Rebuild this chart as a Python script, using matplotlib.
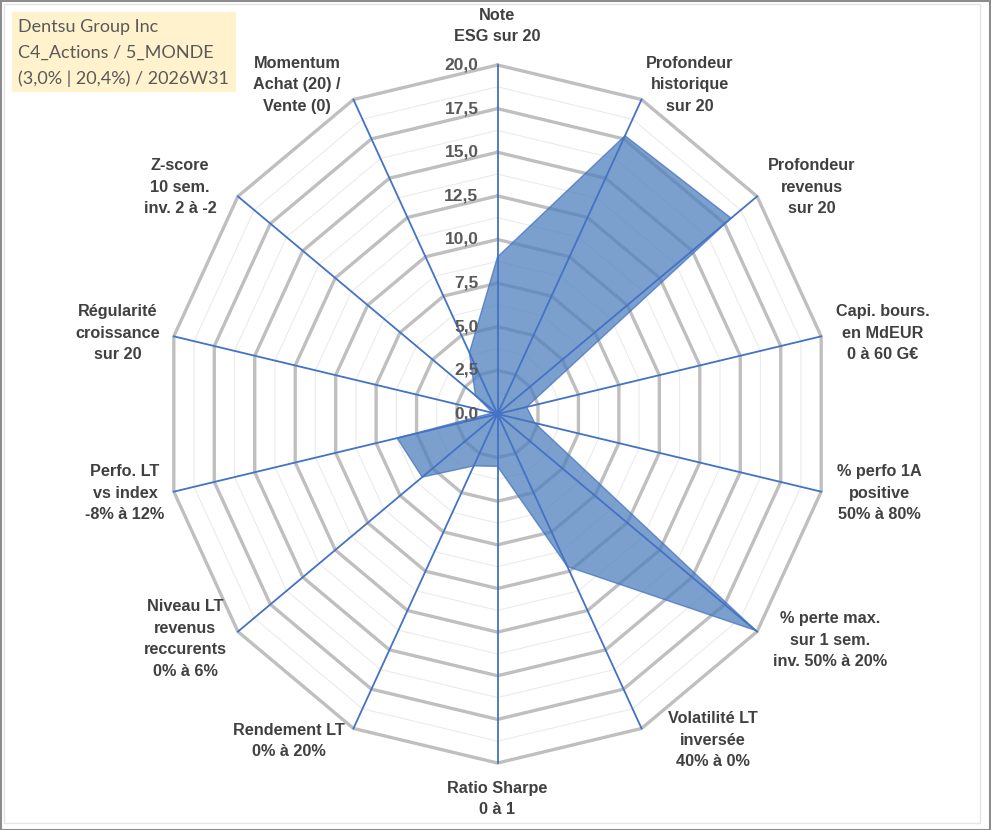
import numpy as np
import matplotlib.pyplot as plt
from matplotlib.patches import Rectangle

# axes of the radar, clockwise from the top
labels = ['Note\nESG sur 20',
          'Profondeur\nhistorique\nsur 20',
          'Profondeur\nrevenus\nsur 20',
          'Capi. bours.\nen MdEUR\n0 à 60 G€',
          '% perfo 1A\npositive\n50% à 80%',
          '% perte max.\nsur 1 sem.\ninv. 50% à 20%',
          'Volatilité LT\ninversée\n40% à 0%',
          'Ratio Sharpe\n0 à 1',
          'Rendement LT\n0% à 20%',
          'Niveau LT\nrevenus\nreccurents\n0% à 6%',
          'Perfo. LT\nvs index\n-8% à 12%',
          'Régularité\ncroissance\nsur 20',
          'Z-score\n10 sem.\ninv. 2 à -2',
          'Momentum\nAchat (20) /\nVente (0)']
values = [9.0, 17.7, 18.0, 1.8, 2.3, 19.9, 9.7, 3.0, 3.3, 5.8, 6.2, 0.3, 1.7, 3.9]
ticks = [0, 2.5, 5, 7.5, 10, 12.5, 15, 17.5, 20]
info = ['Dentsu Group Inc', 'C4_Actions / 5_MONDE', '(3,0% | 20,4%) / 2026W31']

# label centres in pixels (layout only)
lab_pos = [(497, 26), (690, 85), (812, 187), (883, 333), (879, 493), (830, 640),
           (713, 740), (497, 799), (289, 741), (185, 639), (125, 493), (118, 333),
           (180, 187), (297, 85)]

W, H = 991, 830
cx, cy = 497.5, 414
sx, sy = 16.6, 17.45   # px per unit (picture is a bit squeezed horizontally)

fig = plt.figure(figsize=(W / 100, H / 100), dpi=100)
ax = fig.add_axes([0, 0, 1, 1])
ax.set_xlim(-cx / sx, (W - cx) / sx)
ax.set_ylim(-(H - cy) / sy, cy / sy)
ax.axis('off')

n = len(labels)
ang = np.arange(n) * 2 * np.pi / n
ux = np.sin(ang)
uy = np.cos(ang)
uxc = np.append(ux, ux[0])
uyc = np.append(uy, uy[0])

# grid rings
for lev in np.arange(1.25, 20.01, 1.25):
    if abs(lev / 2.5 - round(lev / 2.5)) < 1e-6:
        ax.plot(lev * uxc, lev * uyc, color='#BFBFBF', lw=2.4, zorder=1, solid_joinstyle='miter')
    else:
        ax.plot(lev * uxc, lev * uyc, color='#EBEBEB', lw=0.8, zorder=1)

v = np.array(values)
ax.fill(v * ux, v * uy, facecolor='#4F81BD', alpha=0.75, edgecolor='#4472C4', lw=1, zorder=2)

# spokes
for i in range(n):
    ax.plot([0, 20 * ux[i]], [0, 20 * uy[i]], color='#4472C4', lw=1.3, zorder=3)

for t in ticks:
    ax.text(-1.15, t, f'{t:.1f}'.replace('.', ','), ha='right', va='center',
            fontsize=12.5, fontweight='bold', color='#595959', family='Liberation Sans', zorder=4)

for lab, (px, py) in zip(labels, lab_pos):
    fig.text(px / W, 1 - py / H, lab, ha='center', va='center', multialignment='center',
             fontsize=11.7, fontweight='bold', color='#404040', family='Liberation Sans',
             linespacing=1.55)

# info box
fig.patches.append(Rectangle((12 / W, 1 - 92 / H), 224 / W, 80 / H, transform=fig.transFigure,
                             facecolor='#FFF2CC', edgecolor='none', zorder=0))
for k, line in enumerate(info):
    fig.text(18 / W, 1 - (27 + 26 * k) / H, line, ha='left', va='center',
             fontsize=13, color='#595959', family='Lato')

# frame
fig.patches.append(Rectangle((4 / W, 7 / H), 976 / W, 819 / H, transform=fig.transFigure,
                             facecolor='none', edgecolor='#E3E3E3', lw=1))
fig.patches.append(Rectangle((0.5 / W, 0.5 / H), 989.5 / W, 828.5 / H, transform=fig.transFigure,
                             facecolor='none', edgecolor='#8C8C8C', lw=1.5))

fig.savefig('out.png', dpi=100, facecolor='white')
